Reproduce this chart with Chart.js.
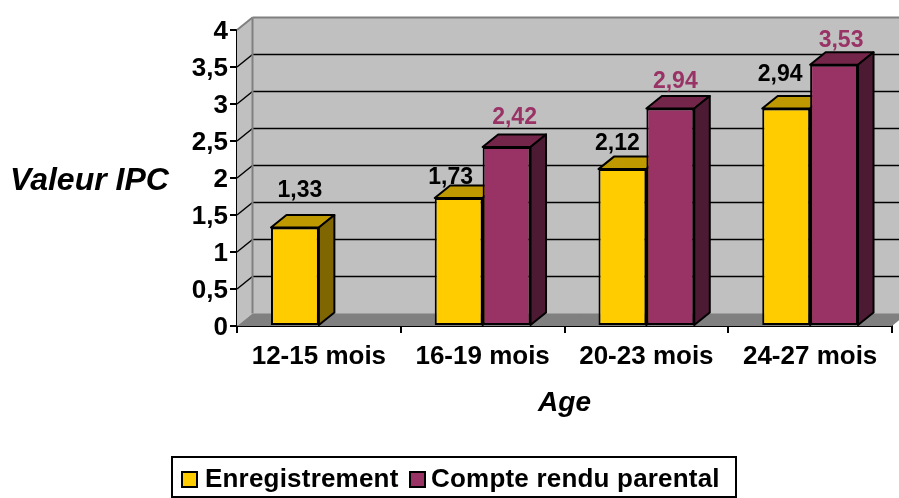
<!DOCTYPE html>
<html lang="fr">
<head>
    <meta charset="UTF-8">
    <title>Valeur IPC</title>
    <script src="https://cdnjs.cloudflare.com/ajax/libs/Chart.js/4.4.1/chart.umd.min.js"></script>
    <style>
        body { margin: 0; background: #fff; }
        canvas { display: block; }
    </style>
</head>
<body>
    <canvas id="ipcChart" width="899" height="498"></canvas>

    <script>
        const categories = ['12-15 mois', '16-19 mois', '20-23 mois', '24-27 mois'];
        const enregistrement = [1.33, 1.73, 2.12, 2.94];
        const compteRendu = [null, 2.42, 2.94, 3.53];
        const yTicks = [0, 0.5, 1, 1.5, 2, 2.5, 3, 3.5, 4];

        // hand-placed value labels: offset from the bar top centre, per series
        const labelOffsets = [
            [[5, -37], [-8, -20], [-5, -25], [-6, -34]],
            [null, [8, -29], [5, -27], [7, -24]]
        ];

        const FONT = '"Liberation Sans", Arial, sans-serif';
        const depthX = 15.5;   // 3D depth of walls and bars
        const depthY = 12.5;
        const faces = [
            { top: '#bf9900', side: '#806600', text: '#000000' },
            { top: '#732649', side: '#4d1a33', text: '#993366' }
        ];

        const comma = v => String(v).replace('.', ',');

        function poly(ctx, pts, fill, stroke, width) {
            ctx.beginPath();
            pts.forEach((p, i) => i ? ctx.lineTo(p[0], p[1]) : ctx.moveTo(p[0], p[1]));
            ctx.closePath();
            if (fill) { ctx.fillStyle = fill; ctx.fill(); }
            if (stroke) { ctx.strokeStyle = stroke; ctx.lineWidth = width; ctx.stroke(); }
        }

        function line(ctx, x1, y1, x2, y2, color, width) {
            ctx.beginPath();
            ctx.moveTo(x1, y1);
            ctx.lineTo(x2, y2);
            ctx.strokeStyle = color;
            ctx.lineWidth = width;
            ctx.stroke();
        }

        // Framed legend, laid out like the original (tighter than the built-in one)
        function drawLegend(chart) {
            const ctx = chart.ctx;
            const items = [{ box: 182, text: 205 }, { box: 410, text: 431 }];
            ctx.strokeStyle = '#000';
            ctx.lineWidth = 2;
            ctx.strokeRect(172, 457, 564, 40);
            ctx.font = 'bold 26px ' + FONT;
            ctx.letterSpacing = '0.2px';
            ctx.textAlign = 'left';
            ctx.textBaseline = 'middle';
            chart.data.datasets.forEach((ds, i) => {
                ctx.fillStyle = ds.backgroundColor;
                ctx.fillRect(items[i].box, 472, 15, 15);
                ctx.strokeRect(items[i].box, 472, 15, 15);
                ctx.fillStyle = '#000';
                ctx.fillText(ds.label, items[i].text, 480);
            });
            ctx.letterSpacing = '0px';
        }

        // Walls, floor and gridlines, then the top and side faces of the bars
        const depthPlugin = {
            id: 'depth',
            beforeDatasetsDraw(chart) {
                const { ctx, chartArea: a, scales: { y } } = chart;
                const l = a.left, r = a.right, t = a.top, b = a.bottom;
                ctx.save();
                ctx.lineJoin = 'round';
                poly(ctx, [[l + depthX, t - depthY], [r + depthX, t - depthY], [r + depthX, b - depthY], [l + depthX, b - depthY]], '#c0c0c0');
                poly(ctx, [[l, t], [l + depthX, t - depthY], [l + depthX, b - depthY], [l, b]], '#c0c0c0');
                poly(ctx, [[l, b], [l + depthX, b - depthY], [r + depthX, b - depthY], [r, b]], '#808080');

                yTicks.forEach(v => {
                    const py = y.getPixelForValue(v);
                    if (v > 0 && v < 4) {
                        line(ctx, l, py, l + depthX, py - depthY, '#000', 1.5);
                        line(ctx, l + depthX, py - depthY, r + depthX, py - depthY, '#000', 1.5);
                    }
                });
                line(ctx, l, t, l + depthX, t - depthY, '#808080', 2);
                line(ctx, l + depthX, t - depthY, r + depthX, t - depthY, '#808080', 2);
                line(ctx, l + depthX, t - depthY, l + depthX, b - depthY, '#808080', 2);
                line(ctx, l + depthX, b - depthY, r + depthX, b - depthY, '#a0a0a0', 1);

                chart.data.datasets.forEach((ds, i) => {
                    chart.getDatasetMeta(i).data.forEach((bar, j) => {
                        if (ds.data[j] === null) return;
                        const x1 = bar.x - bar.width / 2, x2 = bar.x + bar.width / 2;
                        poly(ctx, [[x1, bar.y], [x1 + depthX, bar.y - depthY], [x2 + depthX, bar.y - depthY], [x2, bar.y]], faces[i].top, '#000', 2);
                        poly(ctx, [[x2, bar.y], [x2 + depthX, bar.y - depthY], [x2 + depthX, bar.base - depthY], [x2, bar.base]], faces[i].side, '#000', 2);
                    });
                });
                ctx.restore();
            },
            afterDraw(chart) {
                const ctx = chart.ctx;
                ctx.save();
                // value labels
                ctx.font = 'bold 23px ' + FONT;
                ctx.textAlign = 'center';
                ctx.textBaseline = 'middle';
                chart.data.datasets.forEach((ds, i) => {
                    ctx.fillStyle = faces[i].text;
                    chart.getDatasetMeta(i).data.forEach((bar, j) => {
                        if (ds.data[j] === null) return;
                        const off = labelOffsets[i][j];
                        ctx.fillText(ds.data[j].toFixed(2).replace('.', ','), bar.x + off[0], bar.y + off[1]);
                    });
                });
                // horizontal y axis title
                ctx.font = 'italic bold 32px ' + FONT;
                ctx.textAlign = 'left';
                ctx.fillStyle = '#000';
                ctx.fillText('Valeur IPC', 10, 181);
                drawLegend(chart);
                ctx.restore();
            }
        };

        new Chart(document.getElementById('ipcChart'), {
            type: 'bar',
            data: {
                labels: categories,
                datasets: [
                    { label: 'Enregistrement', data: enregistrement, backgroundColor: '#ffcc00', borderColor: '#000', borderWidth: 2, borderSkipped: false },
                    { label: 'Compte rendu parental', data: compteRendu, backgroundColor: '#993366', borderColor: '#000', borderWidth: 2, borderSkipped: false }
                ]
            },
            options: {
                responsive: false,
                animation: false,
                layout: { padding: { top: 30, right: 7, left: 0, bottom: 0 } },
                datasets: { bar: { barPercentage: 1, categoryPercentage: 0.585 } },
                plugins: {
                    tooltip: { enabled: false },
                    title: { display: false },
                    legend: { display: false }
                },
                scales: {
                    x: {
                        afterFit: s => { s.height = 172; },
                        grid: { drawOnChartArea: false, color: '#000', lineWidth: 2, tickLength: 7 },
                        border: { color: '#000', width: 2 },
                        ticks: { color: '#000', padding: 8, maxRotation: 0, font: { family: FONT, size: 26, weight: 'bold' } },
                        title: {
                            display: true,
                            text: 'Age',
                            color: '#000',
                            font: { family: FONT, size: 28, weight: 'bold', style: 'italic' },
                            padding: { top: 0, bottom: 78 }
                        }
                    },
                    y: {
                        min: 0,
                        max: 4,
                        afterFit: s => { s.width = 237; },
                        afterBuildTicks: s => { s.ticks = yTicks.map(v => ({ value: v })); },
                        grid: { drawOnChartArea: false, color: '#000', lineWidth: 2, tickLength: 7 },
                        border: { color: '#000', width: 2 },
                        ticks: { color: '#000', padding: 2, labelOffset: 2, callback: comma, font: { family: FONT, size: 26, weight: 'bold' } }
                    }
                }
            },
            plugins: [depthPlugin]
        });
    </script>
</body>
</html>
